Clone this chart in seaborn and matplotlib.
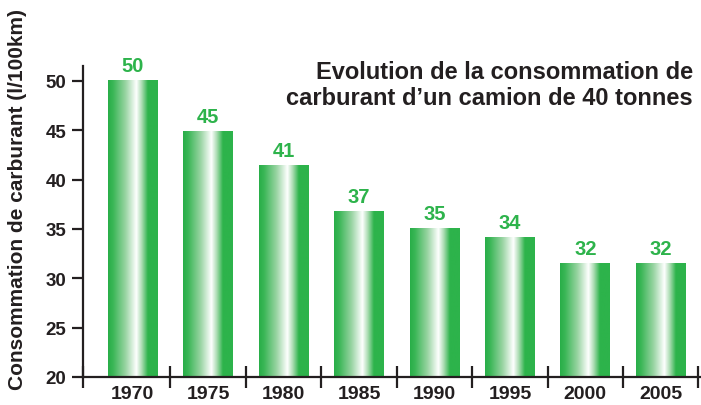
import numpy as np
import pandas as pd
import matplotlib
matplotlib.use("Agg")
import matplotlib.pyplot as plt
from matplotlib.colors import LinearSegmentedColormap
import seaborn as sns

# ---- data ----
years = ["1970", "1975", "1980", "1985", "1990", "1995", "2000", "2005"]
consumption = [50.0, 44.9, 41.4, 36.8, 35.0, 34.1, 31.5, 31.5]
value_labels = ["50", "45", "41", "37", "35", "34", "32", "32"]
yticks = [20, 25, 30, 35, 40, 45, 50]
title = "Evolution de la consommation de\ncarburant d\u2019un camion de 40 tonnes"
ylabel = "Consommation de carburant (l/100km)"

GREEN = "#2db34b"
DARK = "#231f20"

sns.set_theme(style="white")
plt.rcParams["font.family"] = ["Liberation Sans", "DejaVu Sans"]
plt.rcParams["font.weight"] = "bold"

df = pd.DataFrame({"year": years, "value": consumption})

fig = plt.figure(figsize=(7.01, 4.06), dpi=100)
ax = fig.add_axes([83 / 701, 28 / 406, (700 - 83) / 701, (378 - 67) / 406])

sns.barplot(data=df, x="year", y="value", color=GREEN, width=0.66,
            saturation=1, ax=ax, zorder=2)

cmap = LinearSegmentedColormap.from_list(
    "bargrad",
    [(0.0, "#28ae48"), (0.10, "#3ab656"), (0.35, "#98d4a2"),
     (0.57, "#ffffff"), (0.68, "#a8dbb0"), (0.80, "#2db34b"), (1.0, "#2db34b")])
grad = np.linspace(0, 1, 256).reshape(1, -1)
for p in list(ax.patches):
    x0, y0 = p.get_x(), p.get_y()
    w, h = p.get_width(), p.get_height()
    ax.imshow(grad, extent=[x0, x0 + w, y0, y0 + h], aspect="auto",
              cmap=cmap, zorder=2.2, interpolation="bilinear")
    p.set_visible(False)

ax.set_xlim(-0.66, 7.52)
ax.set_ylim(20, 51.5)

for i, (v, lab) in enumerate(zip(consumption, value_labels)):
    ax.annotate(lab, (i, v), xytext=(0, 4), textcoords="offset points",
                ha="center", va="bottom", color=GREEN, fontsize=14.5,
                fontweight="bold")

# axes styling
for s in ["top", "right"]:
    ax.spines[s].set_visible(False)
for s in ["left", "bottom"]:
    ax.spines[s].set_color(DARK)
    ax.spines[s].set_linewidth(1.6)
    ax.spines[s].set_zorder(4)

ax.set_yticks(yticks)
ax.set_yticklabels([str(t) for t in yticks], fontsize=13.5, fontweight="bold",
                   color=DARK)
ax.tick_params(axis="y", direction="out", length=8, width=1.6, color=DARK,
               left=True, pad=4)

ax.set_xticks(range(len(years)))
ax.set_xticklabels(years, fontsize=14, fontweight="bold", color=DARK)
ax.tick_params(axis="x", which="major", length=0, pad=6)
ax.set_xticks([-0.66] + [i + 0.5 for i in range(len(years))], minor=True)
ax.tick_params(axis="x", which="minor", direction="inout", length=16,
               width=1.6, color=DARK, bottom=True)

ax.set_xlabel("")
ax.set_ylabel("")
ax.grid(False)

fig.text(18 / 701, (406 - 200) / 406, ylabel, rotation=90, ha="center",
         va="center", fontsize=15, fontweight="bold", color=DARK)
fig.text(693 / 701, (406 - 61) / 406, title, ha="right", va="top",
         fontsize=17, fontweight="bold", color=DARK, linespacing=1.15)

fig.savefig("out.png", dpi=100, facecolor="white")
